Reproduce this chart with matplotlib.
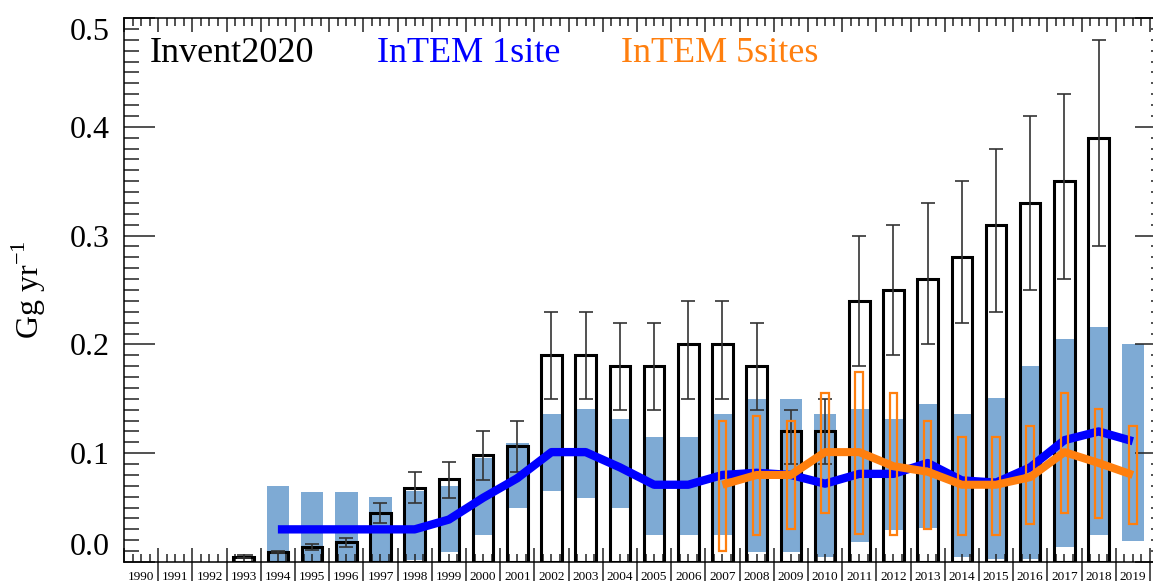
import matplotlib
matplotlib.use("Agg")
import matplotlib.pyplot as plt
from matplotlib.ticker import MultipleLocator
import numpy as np

plt.rcParams['font.family'] = ['Liberation Serif', 'DejaVu Serif']
plt.rcParams['mathtext.fontset'] = 'custom'
plt.rcParams['mathtext.rm'] = 'Liberation Serif'

# Inventory (Invent2020) estimates with uncertainty bounds, Gg/yr
inv_years = list(range(1993, 2019))
inv_value = [0.005, 0.009, 0.014, 0.018, 0.045, 0.068, 0.076, 0.098, 0.107,
             0.19, 0.19, 0.18, 0.18, 0.20, 0.20, 0.18, 0.12, 0.12,
             0.24, 0.25, 0.26, 0.28, 0.31, 0.33, 0.35, 0.39]
inv_low = [0.004, 0.008, 0.011, 0.014, 0.036, 0.054, 0.059, 0.075, 0.083,
           0.15, 0.15, 0.14, 0.14, 0.15, 0.15, 0.14, 0.09, 0.09,
           0.18, 0.19, 0.20, 0.22, 0.23, 0.25, 0.26, 0.29]
inv_high = [0.006, 0.010, 0.017, 0.022, 0.054, 0.083, 0.092, 0.12, 0.13,
            0.23, 0.23, 0.22, 0.22, 0.24, 0.24, 0.22, 0.14, 0.15,
            0.30, 0.31, 0.33, 0.35, 0.38, 0.41, 0.43, 0.48]

# InTEM using one site: uncertainty range and central estimate
one_years = list(range(1994, 2020))
one_low = [0.0, 0.0, 0.0, 0.0, 0.002, 0.009, 0.025, 0.050, 0.065, 0.059,
           0.050, 0.025, 0.025, 0.025, 0.009, 0.009, 0.005, 0.018, 0.029,
           0.031, 0.005, 0.003, 0.003, 0.014, 0.025, 0.019]
one_high = [0.070, 0.064, 0.064, 0.060, 0.065, 0.070, 0.096, 0.109, 0.136,
            0.141, 0.131, 0.115, 0.115, 0.136, 0.150, 0.150, 0.136, 0.141,
            0.131, 0.145, 0.136, 0.151, 0.180, 0.205, 0.216, 0.200]
one_mean = [0.030, 0.030, 0.030, 0.030, 0.030, 0.039, 0.059, 0.077, 0.101,
            0.101, 0.087, 0.071, 0.071, 0.080, 0.082, 0.080, 0.072, 0.081,
            0.081, 0.091, 0.075, 0.073, 0.087, 0.112, 0.120, 0.111]

# InTEM using five sites
five_years = list(range(2007, 2020))
five_low = [0.010, 0.025, 0.030, 0.045, 0.026, 0.025, 0.030, 0.025, 0.025,
            0.035, 0.045, 0.040, 0.035]
five_high = [0.130, 0.134, 0.130, 0.155, 0.175, 0.155, 0.130, 0.115, 0.115,
             0.125, 0.155, 0.141, 0.125]
five_mean = [0.071, 0.080, 0.080, 0.101, 0.101, 0.088, 0.083, 0.071, 0.071,
             0.078, 0.101, 0.091, 0.080]

year_labels = [str(y) for y in range(1990, 2020)]

blue_fill = '#7eaad4'
orange = '#ff7f0e'

fig = plt.figure(figsize=(11.53, 5.81), dpi=100)
ax = fig.add_axes([124 / 1153, 19 / 581, 1042 / 1153, 544 / 581])

x_one = np.array(one_years) + 0.5
x_inv = np.array(inv_years) + 0.5
x_five = np.array(five_years) + 0.5

lo = np.array(one_low)
hi = np.array(one_high)
ax.bar(x_one, hi - lo, bottom=lo, width=0.66, color=blue_fill, zorder=1)

ax.bar(x_inv, inv_value, width=0.6, fill=False, edgecolor='black',
       linewidth=2.2, zorder=2)
val = np.array(inv_value)
ax.errorbar(x_inv, val, yerr=[val - np.array(inv_low), np.array(inv_high) - val],
            fmt='none', ecolor='#333333', elinewidth=1.2, capsize=4.7,
            capthick=1.2, zorder=3)

ax.plot(x_one, one_mean, color='#0000ff', linewidth=6, zorder=4,
        solid_capstyle='butt')

flo = np.array(five_low)
fhi = np.array(five_high)
ax.bar(x_five, fhi - flo, bottom=flo, width=0.22, fill=False,
       edgecolor=orange, linewidth=1.6, zorder=5)
ax.plot(x_five, five_mean, color=orange, linewidth=5.8, zorder=6,
        solid_capstyle='butt')

ax.set_xlim(1990, 2020.47)
ax.set_ylim(0, 0.5)

ax.set_xticks(range(1990, 2021))
ax.xaxis.set_minor_locator(MultipleLocator(0.25))
ax.set_xticklabels([])
ax.set_yticks([0.0, 0.1, 0.2, 0.3, 0.4, 0.5])
ax.yaxis.set_minor_locator(MultipleLocator(0.01))
ax.set_yticklabels(['0.0', '0.1', '0.2', '0.3', '0.4', '0.5'])

ax.tick_params(axis='x', which='both', direction='in', top=True,
               bottom=True, width=1.1, color='#222222')
ax.tick_params(axis='x', which='major', length=10)
ax.tick_params(axis='x', which='minor', length=6)
ax.tick_params(axis='y', which='both', direction='in', left=True,
               right=True, width=1.1, color='#222222', labelsize=23, pad=10)
ax.tick_params(axis='y', which='major', length=22)
ax.tick_params(axis='y', which='minor', length=11)

# keep the end labels inside the frame
yt = ax.yaxis.get_major_ticks()
yt[0].label1.set_va('bottom')
yt[-1].label1.set_va('top')

for s in ax.spines.values():
    s.set_linewidth(1.1)

# year separators and labels below the axis
ax.vlines(range(1991, 2021), -0.05, 0, transform=ax.get_xaxis_transform(),
          color='#222222', linewidth=1.1, clip_on=False)
for i, lab in enumerate(year_labels):
    ax.text(1990.5 + i, -18 / 544, lab, transform=ax.get_xaxis_transform(),
            ha='center', va='baseline', fontsize=9.5, clip_on=False)

fig.text(29 / 1153, 1 - 290 / 581, 'Gg yr$^{-1}$', rotation=90,
         ha='center', va='center', fontsize=23)

ax.text(0.025, 0.919, 'Invent2020', transform=ax.transAxes, fontsize=26,
        color='black', va='baseline')
ax.text(0.243, 0.919, 'InTEM 1site', transform=ax.transAxes, fontsize=26,
        color='#0000ff', va='baseline')
ax.text(0.477, 0.919, 'InTEM 5sites', transform=ax.transAxes, fontsize=26,
        color=orange, va='baseline')

fig.savefig('out.png', dpi=100)
